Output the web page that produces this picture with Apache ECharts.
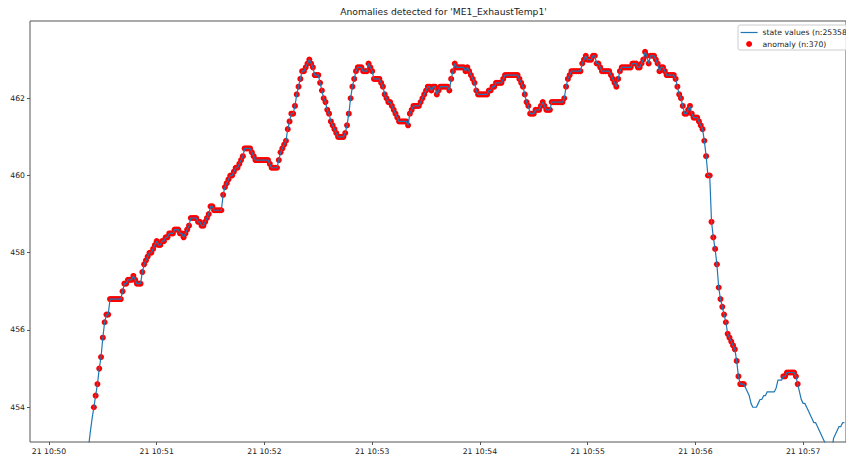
<!DOCTYPE html>
<html>
<head>
<meta charset="utf-8">
<script src="https://cdn.jsdelivr.net/npm/echarts@6/dist/echarts.min.js"></script>
<style>
  html, body { margin: 0; padding: 0; background: #ffffff; }
  #chart { width: 846px; height: 455px; }
</style>
</head>
<body>
<div id="chart"></div>
<script>
const chartTitle = "Anomalies detected for 'ME1_ExhaustTemp1'";
const seriesNames = ['state values (n:25358)', 'anomaly (n:370)'];

// Exhaust temperature, one reading per second; the first reading is at 10:50:20
const firstSecond = 20;
const stateValues = [
  452.4, 452.7, 452.95, 453.35, 453.7, 454.0, 454.3, 454.6, 455.0, 455.3,
  455.8, 456.2, 456.4, 456.4, 456.8, 456.8, 456.8, 456.8, 456.8, 456.8,
  456.8, 457.0, 457.2, 457.2, 457.3, 457.3, 457.3, 457.4, 457.3, 457.2,
  457.2, 457.2, 457.5, 457.7, 457.8, 457.9, 458.0, 458.0, 458.1, 458.2,
  458.3, 458.2, 458.2, 458.3, 458.3, 458.4, 458.4, 458.5, 458.5, 458.5,
  458.6, 458.6, 458.6, 458.5, 458.5, 458.4, 458.5, 458.6, 458.7, 458.9,
  458.9, 458.9, 458.9, 458.8, 458.8, 458.7, 458.7, 458.8, 458.9, 459.0,
  459.2, 459.2, 459.1, 459.1, 459.1, 459.1, 459.1, 459.5, 459.7, 459.8,
  459.9, 460.0, 460.0, 460.1, 460.2, 460.2, 460.3, 460.4, 460.5, 460.7,
  460.7, 460.7, 460.7, 460.6, 460.5, 460.4, 460.4, 460.4, 460.4, 460.4,
  460.4, 460.4, 460.4, 460.3, 460.2, 460.2, 460.2, 460.2, 460.4, 460.6,
  460.7, 460.8, 460.9, 461.2, 461.4, 461.6, 461.6, 461.8, 462.1, 462.3,
  462.5, 462.7, 462.7, 462.8, 462.9, 463.0, 462.9, 462.8, 462.6, 462.6,
  462.6, 462.4, 462.2, 462.0, 461.9, 461.7, 461.6, 461.4, 461.3, 461.2,
  461.1, 461.0, 461.0, 461.0, 461.0, 461.1, 461.3, 461.6, 462.0, 462.3,
  462.5, 462.7, 462.8, 462.8, 462.8, 462.7, 462.7, 462.7, 462.9, 462.8,
  462.7, 462.5, 462.5, 462.5, 462.5, 462.4, 462.3, 462.1, 462.0, 461.9,
  461.9, 461.8, 461.7, 461.6, 461.5, 461.4, 461.4, 461.4, 461.4, 461.4,
  461.3, 461.6, 461.7, 461.8, 461.8, 461.8, 461.8, 461.9, 462.0, 462.1,
  462.2, 462.3, 462.3, 462.2, 462.3, 462.3, 462.1, 462.2, 462.3, 462.3,
  462.3, 462.3, 462.3, 462.2, 462.5, 462.7, 462.9, 462.8, 462.8, 462.8,
  462.8, 462.8, 462.7, 462.8, 462.7, 462.6, 462.5, 462.4, 462.2, 462.1,
  462.1, 462.1, 462.1, 462.1, 462.1, 462.2, 462.2, 462.3, 462.3, 462.4,
  462.4, 462.4, 462.4, 462.5, 462.6, 462.6, 462.6, 462.6, 462.6, 462.6,
  462.6, 462.6, 462.5, 462.4, 462.3, 462.1, 461.9, 461.8, 461.6, 461.6,
  461.6, 461.7, 461.7, 461.7, 461.8, 461.9, 461.8, 461.7, 461.7, 461.7,
  461.9, 461.9, 461.9, 461.9, 461.9, 461.9, 461.9, 462.0, 462.3, 462.5,
  462.6, 462.7, 462.7, 462.7, 462.7, 462.7, 462.7, 462.9, 463.0, 463.1,
  463.0, 463.0, 463.0, 463.1, 463.1, 462.9, 462.9, 462.8, 462.7, 462.7,
  462.7, 462.7, 462.7, 462.6, 462.5, 462.4, 462.3, 462.5, 462.7, 462.8,
  462.8, 462.8, 462.8, 462.8, 462.8, 462.9, 462.9, 462.9, 462.8, 462.8,
  462.9, 463.0, 463.2, 463.1, 462.9, 463.1, 463.1, 463.1, 463.0, 462.9,
  462.7, 462.8, 462.8, 462.7, 462.6, 462.6, 462.6, 462.6, 462.6, 462.5,
  462.3, 462.1, 462.0, 461.8, 461.6, 461.6, 461.7, 461.8, 461.6, 461.5,
  461.5, 461.5, 461.4, 461.3, 461.2, 460.9, 460.5, 460.0, 460.0, 458.8,
  458.4, 458.1, 457.7, 457.1, 456.8, 456.6, 456.4, 456.2, 455.9, 455.8,
  455.7, 455.6, 455.5, 455.2, 454.8, 454.6, 454.6, 454.6, 454.5, 454.4,
  454.3, 454.1, 454.0, 454.0, 454.0, 454.1, 454.2, 454.2, 454.3, 454.3,
  454.4, 454.4, 454.4, 454.4, 454.4, 454.5, 454.7, 454.7, 454.7, 454.8,
  454.8, 454.9, 454.9, 454.9, 454.9, 454.9, 454.8, 454.6, 454.4, 454.2,
  454.1, 454.1, 454.0, 453.9, 453.8, 453.7, 453.6, 453.6, 453.5, 453.4,
  453.3, 453.2, 453.1, 452.9, 452.8, 452.8, 452.9, 453.2, 453.3, 453.4,
  453.5, 453.5, 453.6, 453.6
];

// Time spans (seconds after 10:50:00, inclusive) flagged as anomalous
const anomalySpans = [[25, 387], [409, 417]];

// Axis ticks
const xTickSeconds = [0, 60, 120, 180, 240, 300, 360, 420];
const xTickLabels = ['21 10:50', '21 10:51', '21 10:52', '21 10:53', '21 10:54', '21 10:55', '21 10:56', '21 10:57'];
const yTicks = [454, 456, 458, 460, 462];

const lineData = stateValues.map((v, i) => [firstSecond + i, v]);
const anomalyData = lineData.filter(([s]) => anomalySpans.some(([a, b]) => s >= a && s <= b));

const FONT = 'DejaVu Sans';
const TEXT = '#222222';
const AXIS = '#555555';
const LINE_BLUE = '#1f77b4';

const chart = echarts.init(document.getElementById('chart'), null, { renderer: 'svg' });
chart.setOption({
  animation: false,
  backgroundColor: '#ffffff',
  title: {
    text: chartTitle,
    left: 443.5,
    top: 7,
    padding: 0,
    textAlign: 'center',
    textStyle: { fontFamily: FONT, fontSize: 9.2, fontWeight: 'normal', color: TEXT }
  },
  legend: {
    orient: 'vertical',
    left: 738,
    top: 25,
    padding: [3.5, 20, 2, 2],
    itemWidth: 17,
    itemHeight: 6,
    itemGap: 3.5,
    backgroundColor: 'rgba(255,255,255,0.8)',
    borderColor: '#cccccc',
    borderWidth: 1,
    borderRadius: 2,
    selectedMode: false,
    textStyle: { fontFamily: FONT, fontSize: 7.7, color: TEXT },
    data: [
      { name: seriesNames[0], itemStyle: { opacity: 0 }, lineStyle: { width: 1.2, color: LINE_BLUE } },
      { name: seriesNames[1] }
    ]
  },
  grid: {
    show: true,
    left: 30,
    top: 21,
    right: -2,
    bottom: 13,
    borderColor: AXIS,
    borderWidth: 1,
    backgroundColor: 'transparent',
    containLabel: false
  },
  xAxis: {
    type: 'value',
    min: -10.56,
    max: 443.9,
    axisLine: { show: false, onZero: false },
    splitLine: { show: false },
    axisTick: { customValues: xTickSeconds, length: 3, lineStyle: { color: AXIS, width: 1 } },
    axisLabel: {
      customValues: xTickSeconds,
      margin: 5,
      fontFamily: FONT,
      fontSize: 7.7,
      color: TEXT,
      formatter: (v) => xTickLabels[xTickSeconds.indexOf(v)] || ''
    }
  },
  yAxis: {
    type: 'value',
    min: 453.1,
    max: 464.0,
    axisLine: { show: false, onZero: false },
    splitLine: { show: false },
    axisTick: { show: true, customValues: yTicks, length: 3, lineStyle: { color: AXIS, width: 1 } },
    axisLabel: {
      customValues: yTicks,
      margin: 5,
      fontFamily: FONT,
      fontSize: 7.7,
      color: TEXT
    }
  },
  series: [
    {
      name: seriesNames[0],
      type: 'line',
      data: lineData,
      symbol: 'none',
      showSymbol: false,
      clip: true,
      z: 3,
      lineStyle: { color: LINE_BLUE, width: 1.2 },
      itemStyle: { color: LINE_BLUE }
    },
    {
      name: seriesNames[1],
      type: 'scatter',
      data: anomalyData,
      symbol: 'circle',
      symbolSize: 6,
      clip: true,
      z: 2,
      itemStyle: { color: '#ff0000', opacity: 1 }
    }
  ]
});
</script>
</body>
</html>
